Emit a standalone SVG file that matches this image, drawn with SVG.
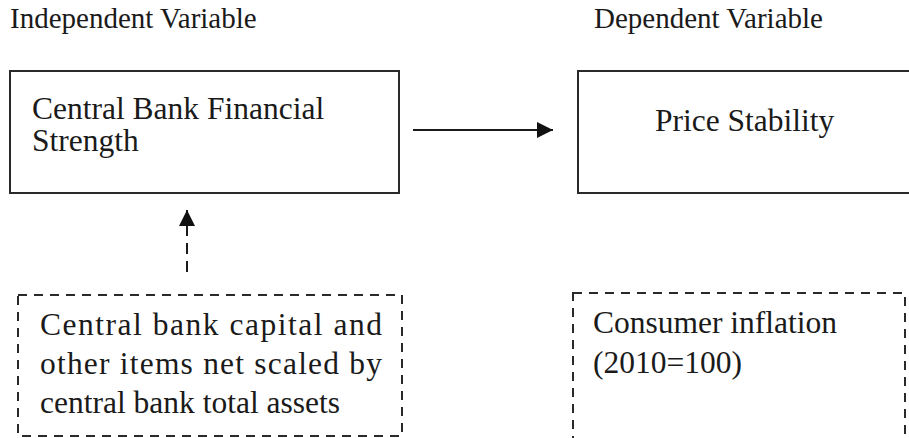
<svg xmlns="http://www.w3.org/2000/svg" width="909" height="438" viewBox="0 0 909 438">
  <style>
    text { font-family: "Liberation Serif", "Times New Roman", serif; fill: #1a1a1a; }
    .head { font-size: 29px; }
    .body { font-size: 31.5px; }
    .solid { fill: none; stroke: #2a2a2a; stroke-width: 2; }
    .dash { fill: none; stroke: #2a2a2a; stroke-width: 2; stroke-dasharray: 9 7; }
    .conn { stroke: #1a1a1a; stroke-width: 2; fill: none; }
  </style>
  <defs>
    <marker id="head" viewBox="0 0 10 10" refX="10" refY="5" markerWidth="8" markerHeight="8" markerUnits="userSpaceOnUse" orient="auto">
      <path d="M0,0 L10,5 L0,10 Z" fill="#111"/>
    </marker>
    <marker id="headLarge" viewBox="0 0 10 10" refX="10" refY="5" markerWidth="16" markerHeight="16" markerUnits="userSpaceOnUse" orient="auto">
      <path d="M0,0 L10,5 L0,10 Z" fill="#111"/>
    </marker>
  </defs>

  <!-- column headings -->
  <text class="head" x="10" y="28">Independent Variable</text>
  <text class="head" x="594" y="28">Dependent Variable</text>

  <g id="financial-strength">
    <rect class="solid" x="10" y="71" width="389" height="122"/>
    <text class="body" x="32" y="119">Central Bank Financial</text>
    <text class="body" x="32" y="151">Strength</text>
  </g>

  <g id="price-stability">
    <rect class="solid" x="578" y="71" width="345" height="122"/>
    <text class="body" x="655" y="131">Price Stability</text>
  </g>

  <g id="capital-measure">
    <rect class="dash" x="18" y="295" width="384" height="141"/>
    <text class="body" x="40" y="335" textLength="342" lengthAdjust="spacing">Central bank capital and</text>
    <text class="body" x="40" y="374" textLength="342" lengthAdjust="spacing">other items net scaled by</text>
    <text class="body" x="40" y="413">central bank total assets</text>
  </g>

  <g id="inflation-measure">
    <rect class="dash" x="573" y="293" width="332" height="160"/>
    <text class="body" x="593" y="333">Consumer inflation</text>
    <text class="body" x="593" y="373">(2010=100)</text>
  </g>

  <g id="connectors">
    <line class="conn" x1="413" y1="130" x2="553" y2="130" marker-end="url(#headLarge)"/>
    <line class="conn" x1="187" y1="272" x2="187" y2="210" stroke-dasharray="11 7" marker-end="url(#headLarge)"/>
  </g>
</svg>
